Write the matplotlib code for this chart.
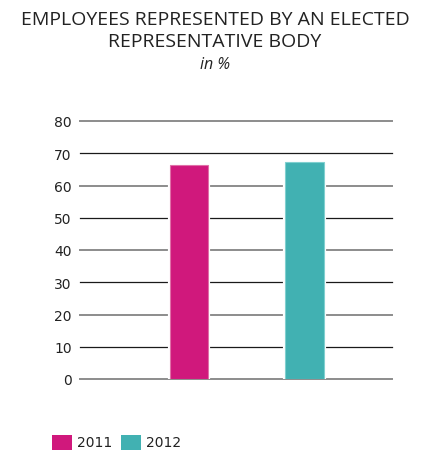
import matplotlib
matplotlib.use("Agg")
import matplotlib.pyplot as plt
from matplotlib.patches import Rectangle

years = ["2011", "2012"]
values = [66.4, 67.4]
colors = ["#D0187C", "#41B1B2"]
yticks = [0, 10, 20, 30, 40, 50, 60, 70, 80]

W, H = 430, 452
fig = plt.figure(figsize=(W/100, H/100), dpi=100)
ax = fig.add_axes([80/W, 1-380/H, 312/W, (380-122)/H])
ax.set_xlim(-0.944, 1.758)
ax.set_ylim(0, 80)
for t in yticks:
    if t % 20 == 0:
        ax.axhline(t, color="#8c8c8c", lw=1.4, zorder=1, clip_on=False)
    else:
        ax.axhline(t, color="#1a1a1a", lw=0.9, zorder=1, clip_on=False)
ax.bar(range(len(values)), values, width=0.33, color=colors,
       edgecolor="white", linewidth=3, zorder=2)
ax.bar(range(len(values)), values, width=0.33, color=colors,
       edgecolor=["#e070a8", "#80d0d0"], linewidth=0.8, zorder=3)
for s in ax.spines.values():
    s.set_visible(False)
ax.set_xticks([])
ax.set_yticks(yticks)
ax.tick_params(axis="y", length=0, pad=6, labelsize=10, labelcolor="#222222")
for lab in ax.get_yticklabels():
    lab.set_fontfamily("DejaVu Sans")

fig.text(0.5, 1-20/H, "EMPLOYEES REPRESENTED BY AN ELECTED", ha="center", va="center",
         fontsize=14, family="Open Sans", color="#222222")
fig.text(0.5, 1-42/H, "REPRESENTATIVE BODY", ha="center", va="center",
         fontsize=14, family="Open Sans", color="#222222")
fig.text(0.5, 1-65/H, "in %", ha="center", va="center", style="italic",
         fontsize=11.5, family="Open Sans", color="#222222")

# legend
lx = [52, 121]
for i, (yr, c) in enumerate(zip(years, colors)):
    fig.patches.append(Rectangle((lx[i]/W, 1-451/H), 20/W, 15/H, transform=fig.transFigure,
                                 facecolor=c, edgecolor="none"))
    fig.text((lx[i]+25)/W, 1-443/H, yr, ha="left", va="center", fontsize=10,
             family="DejaVu Sans", color="#222222")

fig.savefig("out.png", dpi=100)
